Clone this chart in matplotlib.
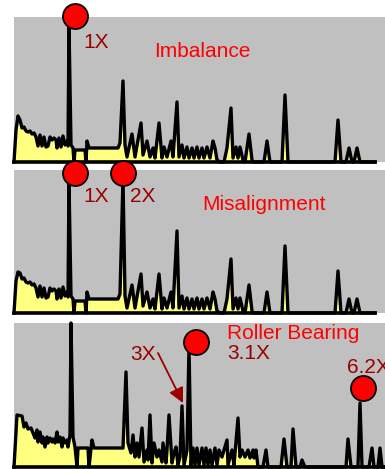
import matplotlib

matplotlib.use("Agg")

import matplotlib.pyplot as plt

# frequency bins shared by the imbalance and misalignment spectra
FREQ_AB = [
    0, 2, 4, 6, 8, 10, 12, 14, 16, 18, 20, 22, 24, 26, 28, 30, 32, 34, 36, 38,
    40, 42, 43, 45, 47, 49, 51, 53, 54, 55, 57, 59, 60, 61, 71, 72, 73, 75, 104, 106,
    109, 111, 113, 118, 121, 127, 129, 133, 136, 139, 141, 145, 148, 150, 153, 157, 159, 163, 165, 168,
    170, 173, 175, 178, 180, 183, 185, 188, 190, 193, 196, 199, 201, 203, 206, 210, 213, 217, 219, 222,
    224, 226, 229, 231, 235, 238, 239, 250, 253, 256, 268, 271, 274, 321, 324, 327, 332, 335, 338, 340,
    343, 346, 361,
]
AMP_IMBALANCE = [
    0, 32, 46, 42, 34, 35, 31, 30, 31, 28, 29, 25, 16, 27, 16, 25, 15, 16, 25, 22,
    24, 22, 14, 24, 15, 26, 17, 21, 16, 136, 17, 14, 0, 12, 12, 0, 21, 14, 14, 19,
    81, 17, 5, 28, 5, 39, 7, 21, 5, 14, 4, 39, 4, 15, 5, 21, 5, 60, 5, 17,
    4, 15, 4, 14, 4, 15, 4, 14, 4, 15, 4, 21, 14, 2, 0, 0, 14, 54, 4, 15,
    4, 15, 2, 0, 28, 2, 0, 0, 21, 0, 0, 67, 0, 0, 42, 0, 0, 14, 0, 0,
    14, 0, 0,
]
AMP_MISALIGN = [
    0, 32, 41, 40, 34, 35, 31, 30, 31, 28, 29, 25, 16, 27, 16, 25, 15, 16, 25, 22,
    24, 22, 14, 24, 15, 26, 17, 21, 16, 130, 17, 14, 0, 12, 12, 0, 21, 14, 14, 19,
    134, 17, 5, 28, 5, 39, 7, 21, 5, 14, 4, 39, 4, 15, 5, 21, 5, 82, 5, 17,
    4, 15, 4, 14, 4, 15, 4, 14, 4, 15, 4, 21, 14, 2, 0, 0, 14, 54, 4, 15,
    4, 15, 2, 0, 28, 2, 0, 0, 21, 0, 0, 67, 0, 0, 42, 0, 0, 14, 0, 0,
    14, 0, 0,
]

FREQ_BEARING = [
    0, 3, 8, 10, 12, 14, 17, 19, 21, 23, 24, 26, 28, 29, 31, 33, 34, 36, 38, 39,
    41, 43, 44, 46, 48, 49, 51, 53, 54, 56, 57, 59, 61, 63, 64, 74, 75, 78, 80, 109,
    112, 114, 117, 119, 121, 123, 125, 128, 130, 133, 134, 136, 138, 140, 143, 145, 148, 149, 152, 153,
    155, 158, 160, 162, 164, 166, 168, 170, 173, 175, 177, 179, 181, 183, 185, 188, 190, 192, 194, 196,
    198, 201, 203, 205, 208, 213, 214, 218, 220, 224, 226, 228, 231, 234, 236, 239, 240, 242, 244, 249,
    252, 254, 267, 270, 273, 277, 279, 282, 286, 288, 291, 332, 334, 337, 344, 346, 348, 355, 358, 360,
    364, 366, 368, 371,
]
AMP_BEARING = [
    0, 52, 51, 40, 44, 38, 39, 34, 29, 37, 25, 35, 24, 30, 20, 30, 24, 29, 25, 28,
    24, 35, 25, 30, 20, 29, 24, 27, 20, 32, 144, 30, 20, 0, 19, 19, 0, 27, 19, 19,
    95, 24, 14, 32, 10, 24, 10, 39, 5, 17, 7, 52, 4, 24, 10, 17, 5, 24, 4, 17,
    52, 4, 14, 20, 2, 10, 61, 2, 17, 120, 2, 19, 2, 19, 2, 19, 2, 19, 2, 17,
    2, 19, 2, 17, 10, 27, 2, 17, 2, 49, 10, 17, 10, 17, 9, 17, 9, 17, 0, 0,
    17, 0, 0, 28, 0, 0, 38, 0, 0, 7, 0, 0, 28, 0, 0, 64, 0, 0, 19, 0,
    0, 19, 0, 0,
]

# red marker balls sitting on the fault peaks
MARK_IMBALANCE_F = [61]
MARK_IMBALANCE_A = [146]
MARK_MISALIGN_F = [61, 109]
MARK_MISALIGN_A = [140, 140]
MARK_BEARING_F = [182, 349]
MARK_BEARING_A = [125, 79]

GRAY = "#C0C0C0"
YELLOW = "#FFFF80"
RED = "#FF0000"
DARK_RED = "#990000"

W, H = 385, 469


def _panel(fig, top_px, base_px, freq, amp, spine_end):
    ax = fig.add_axes([14 / W, (H - base_px) / H, 371 / W, (base_px - top_px) / H])
    ax.set_facecolor(GRAY)
    ax.set_xlim(0, 371)
    ax.set_ylim(0, base_px - top_px)
    for side in ("top", "right", "left"):
        ax.spines[side].set_visible(False)
    ax.spines["bottom"].set_linewidth(2.6)
    ax.spines["bottom"].set_color("black")
    ax.spines["bottom"].set_bounds(0, spine_end)
    ax.set_xticks([])
    ax.set_yticks([])
    ax.fill_between(freq, amp, 0, color=YELLOW, linewidth=0, zorder=2)
    ax.plot(freq, amp, color="black", linewidth=2.4, solid_joinstyle="round", zorder=3, clip_on=False)
    return ax


def _balls(ax, fs, amps):
    ax.plot(
        fs, amps, "o",
        markersize=18,
        markerfacecolor=RED,
        markeredgecolor="black",
        markeredgewidth=1.3,
        clip_on=False,
        zorder=10,
    )


def main():
    plt.rcParams["font.family"] = ["Liberation Sans", "DejaVu Sans"]
    fig = plt.figure(figsize=(W / 100, H / 100), dpi=100)
    fig.patch.set_facecolor("white")
    fs = 15

    ax1 = _panel(fig, 17, 162, FREQ_AB, AMP_IMBALANCE, 361)
    _balls(ax1, MARK_IMBALANCE_F, MARK_IMBALANCE_A)
    ax1.text(69, 114, "1X", color=DARK_RED, fontsize=fs, va="baseline", clip_on=False)
    ax1.text(140, 105, "Imbalance", color=RED, fontsize=fs, va="baseline")

    ax2 = _panel(fig, 170, 313, FREQ_AB, AMP_MISALIGN, 361)
    _balls(ax2, MARK_MISALIGN_F, MARK_MISALIGN_A)
    ax2.text(69, 111, "1X", color=DARK_RED, fontsize=fs, va="baseline")
    ax2.text(116, 111, "2X", color=DARK_RED, fontsize=fs, va="baseline")
    ax2.text(188, 103, "Misalignment", color=RED, fontsize=fs, va="baseline")

    ax3 = _panel(fig, 323, 467, FREQ_BEARING, AMP_BEARING, 371)
    _balls(ax3, MARK_BEARING_F, MARK_BEARING_A)
    ax3.text(213, 128, "Roller Bearing", color=RED, fontsize=fs, va="baseline", zorder=12)
    ax3.text(213, 108, "3.1X", color=DARK_RED, fontsize=fs, va="baseline", zorder=12)
    ax3.text(333, 94, "6.2X", color=DARK_RED, fontsize=fs, va="baseline", zorder=12, clip_on=False)
    ax3.text(116, 107, "3X", color=DARK_RED, fontsize=fs, va="baseline")
    ax3.annotate(
        "",
        xy=(169, 64),
        xytext=(144, 114),
        arrowprops=dict(
            arrowstyle="-|>,head_length=0.9,head_width=0.45",
            color=DARK_RED,
            linewidth=1.3,
            shrinkA=0,
            shrinkB=0,
        ),
        zorder=11,
    )

    fig.savefig("out.png", dpi=100, facecolor="white")
    plt.close(fig)


if __name__ == "__main__":
    main()
